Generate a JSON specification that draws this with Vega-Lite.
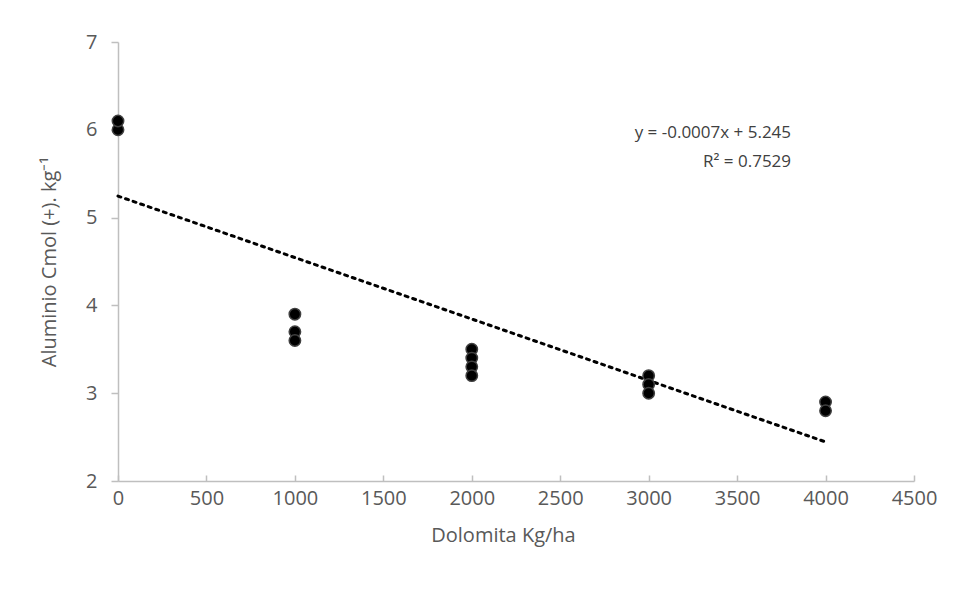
{
  "$schema": "https://vega.github.io/schema/vega-lite/v6.json",
  "autosize": "none",
  "width": 796,
  "height": 439,
  "padding": {"left": 118, "top": 42, "right": 43, "bottom": 111},
  "background": "white",
  "config": {
    "view": {"stroke": null},
    "font": "Open Sans",
    "axis": {
      "labelFont": "Open Sans",
      "titleFont": "Open Sans",
      "labelColor": "#595959",
      "titleColor": "#595959",
      "labelFontSize": 20,
      "titleFontSize": 20,
      "titleFontWeight": "normal",
      "domainColor": "#bfbfbf",
      "tickColor": "#bfbfbf",
      "domainWidth": 1.5,
      "tickWidth": 1.5,
      "labelFlush": false,
      "labelOverlap": false,
      "grid": false
    }
  },
  "datasets": {
    "points": [
      {"dose": 0, "al": 6.0},
      {"dose": 0, "al": 6.1},
      {"dose": 1000, "al": 3.9},
      {"dose": 1000, "al": 3.7},
      {"dose": 1000, "al": 3.6},
      {"dose": 2000, "al": 3.5},
      {"dose": 2000, "al": 3.4},
      {"dose": 2000, "al": 3.3},
      {"dose": 2000, "al": 3.2},
      {"dose": 3000, "al": 3.2},
      {"dose": 3000, "al": 3.1},
      {"dose": 3000, "al": 3.0},
      {"dose": 4000, "al": 2.9},
      {"dose": 4000, "al": 2.8}
    ],
    "trend": [
      {"dose": 0, "al": 5.245},
      {"dose": 4000, "al": 2.445}
    ],
    "labels": [
      {"dose": 3805, "al": 5.96, "text": "y = -0.0007x + 5.245"},
      {"dose": 3805, "al": 5.63, "text": "R² = 0.7529"}
    ]
  },
  "layer": [
    {
      "data": {"name": "trend"},
      "mark": {"type": "line", "color": "black", "strokeWidth": 3, "strokeDash": [3, 5], "strokeCap": "round"},
      "encoding": {
        "x": {
          "field": "dose", "type": "quantitative",
          "scale": {"domain": [0, 4500], "nice": false},
          "axis": {
            "title": "Dolomita Kg/ha",
            "values": [0, 500, 1000, 1500, 2000, 2500, 3000, 3500, 4000, 4500],
            "format": "d",
            "tickSize": -6,
            "labelPadding": 13,
            "titlePadding": 17,
            "titleX": 385
          }
        },
        "y": {
          "field": "al", "type": "quantitative",
          "scale": {"domain": [2, 7], "nice": false, "zero": false},
          "axis": {
            "title": "Aluminio Cmol (+). kg⁻¹",
            "values": [2, 3, 4, 5, 6, 7],
            "format": "d",
            "tickSize": 7,
            "labelPadding": 14,
            "titlePadding": 26
          }
        }
      }
    },
    {
      "data": {"name": "points"},
      "mark": {"type": "point", "shape": "circle", "filled": true, "size": 130, "color": "black", "stroke": "#404040", "strokeWidth": 1.5, "opacity": 1},
      "encoding": {
        "x": {"field": "dose", "type": "quantitative"},
        "y": {"field": "al", "type": "quantitative"}
      }
    },
    {
      "data": {"name": "labels"},
      "mark": {"type": "text", "align": "right", "baseline": "middle", "font": "Open Sans", "fontSize": 17, "color": "#404040"},
      "encoding": {
        "x": {"field": "dose", "type": "quantitative"},
        "y": {"field": "al", "type": "quantitative"},
        "text": {"field": "text"}
      }
    }
  ]
}
